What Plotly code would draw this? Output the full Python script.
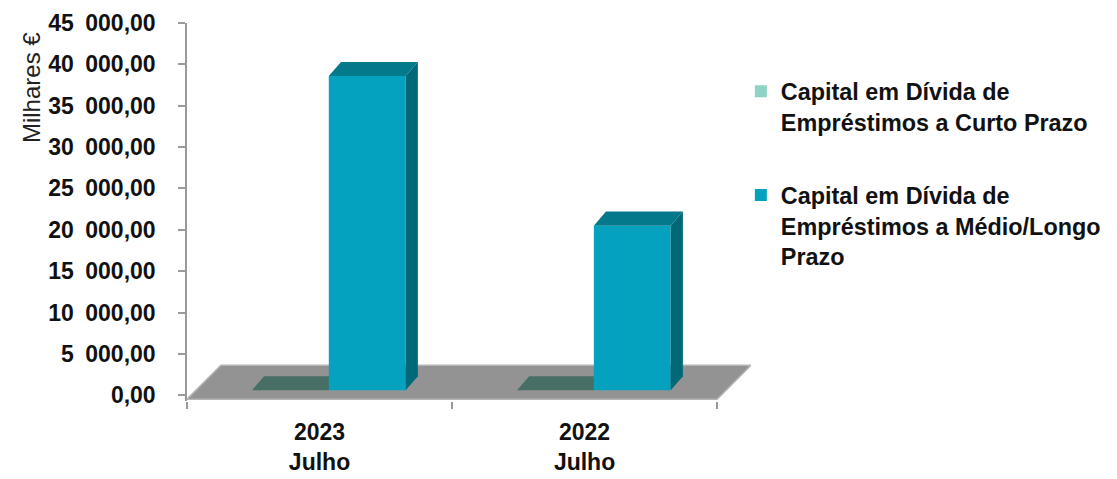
import plotly.graph_objects as go

# ---- data ----
years = ["2023", "2022"]
months = ["Julho", "Julho"]
series_names = [
    "Capital em Dívida de<br>Empréstimos a Curto Prazo",
    "Capital em Dívida de<br>Empréstimos a Médio/Longo<br>Prazo",
]
curto_prazo = [0, 0]
medio_longo_prazo = [38000, 19900]
y_tick_values = [0, 5000, 10000, 15000, 20000, 25000, 30000, 35000, 40000, 45000]
y_tick_labels = ["0,00", "5\u2002000,00", "10\u2002000,00", "15\u2002000,00", "20\u2002000,00",
                 "25\u2002000,00", "30\u2002000,00", "35\u2002000,00", "40\u2002000,00", "45\u2002000,00"]
y_title = "Milhares €"

# ---- styles ----
FONT = "Liberation Sans, Arial, sans-serif"
FRONT = "#04A2BE"
TOP = "#03798B"
SIDE = "#016878"
ZERO_TOP = "#476F66"
LEG_CURTO = "#8ED3C4"
FLOOR = "#939393"
FLOOR_EDGE = "#B4B4B4"

BAR_W = 0.29       # width of each bar (category units)
SHIFT = 0.035      # shift of the pair inside the category
BASE = 600         # front-bottom of the bars (value units)
DX, DY = 0.046, 1700      # bar depth projection
FDX, FDY = 0.128, 4100    # floor depth projection
F_FRONT = -480

n = len(years)
pos = list(range(n))
x_curto = [p + SHIFT - BAR_W / 2 for p in pos]
x_medio = [p + SHIFT + BAR_W / 2 for p in pos]

fig = go.Figure()
fig.add_trace(go.Bar(x=x_curto, y=curto_prazo, base=BASE, width=BAR_W, name=series_names[0],
                     marker=dict(color=LEG_CURTO, line=dict(width=0)), legendgroup="a"))
fig.add_trace(go.Bar(x=x_medio, y=medio_longo_prazo, base=BASE, width=BAR_W, name=series_names[1],
                     marker=dict(color=FRONT, line=dict(width=0)), legendgroup="b"))

shapes = []
# floor
x_lo, x_hi = -0.5, n - 0.5
shapes.append(dict(type="path", xref="x", yref="y", layer="below",
                   path=f"M {x_lo},{F_FRONT} L {x_hi},{F_FRONT} L {x_hi+FDX},{F_FRONT+FDY} L {x_lo+FDX},{F_FRONT+FDY} Z",
                   fillcolor=FLOOR, line=dict(color=FLOOR_EDGE, width=1.5)))


def box_faces(xc, v, top_color, side_color, layer):
    x0, x1 = xc - BAR_W / 2, xc + BAR_W / 2
    yt = BASE + v
    out = [dict(type="path", xref="x", yref="y", layer=layer,
                path=f"M {x0},{yt} L {x1},{yt} L {x1+DX},{yt+DY} L {x0+DX},{yt+DY} Z",
                fillcolor=top_color, line=dict(width=0))]
    if v > 0:
        out.append(dict(type="path", xref="x", yref="y", layer=layer,
                        path=f"M {x1},{BASE} L {x1},{yt} L {x1+DX},{yt+DY} L {x1+DX},{BASE+DY} Z",
                        fillcolor=side_color, line=dict(width=0)))
    return out


for xc, v in zip(x_curto, curto_prazo):
    shapes += box_faces(xc, v, ZERO_TOP if v == 0 else TOP, SIDE, "below")
for xc, v in zip(x_medio, medio_longo_prazo):
    shapes += box_faces(xc, v, TOP, SIDE, "above")

# page body has an 8px default margin -> figure is drawn 8px in from the window edge
fig.update_layout(
    width=1109, height=471,
    margin=dict(l=179, r=366, t=15, b=78, autoexpand=False),
    paper_bgcolor="white", plot_bgcolor="white",
    barmode="overlay",
    font=dict(family=FONT, size=22, color="#111111"),
    shapes=shapes,
    showlegend=True,
    legend=dict(x=0.982, y=0.877, xanchor="left", yanchor="top", valign="top",
                font=dict(family=FONT, size=23.4, color="#111111", weight="bold"),
                tracegroupgap=40, bgcolor="rgba(0,0,0,0)"),
    annotations=[dict(text=y_title, xref="paper", yref="paper", x=-0.277, y=0.83,
                      xanchor="center", yanchor="middle", textangle=-90, showarrow=False,
                      font=dict(family=FONT, size=24, color="#222222"))],
)

fig.update_xaxes(range=[x_lo, x_hi + FDX], tickvals=pos, automargin=False,
                 ticktext=[f"{a}<br>{b}" for a, b in zip(years, months)],
                 ticks="", showline=False, showgrid=False, zeroline=False,
                 tickfont=dict(family=FONT, size=23, color="#111111", weight="bold"),
                 ticklabelstandoff=15,
                 minor=dict(tickvals=[p - 0.5 for p in pos] + [n - 0.5], ticks="outside",
                            ticklen=7, tickcolor="#9A9A9A", tickwidth=1.5))
fig.update_yaxes(range=[-700, 45000], tickvals=y_tick_values, ticktext=y_tick_labels,
                 automargin=False,
                 ticks="outside", ticklen=7, tickcolor="#9A9A9A", tickwidth=1.5,
                 showline=True, linecolor="#9A9A9A", linewidth=1.5,
                 showgrid=False, zeroline=False,
                 tickfont=dict(family=FONT, size=23, color="#111111", weight="bold"),
                 ticklabelstandoff=18)

fig.write_html("out.html")
